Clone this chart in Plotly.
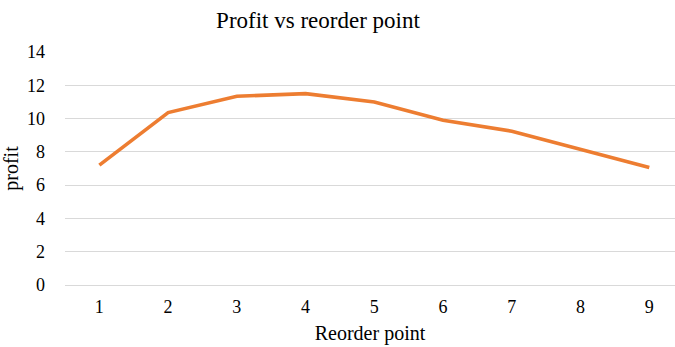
import plotly.graph_objects as go

# Profit for each candidate reorder point
reorder_points = [1, 2, 3, 4, 5, 6, 7, 8, 9]
profit = [7.2, 10.36, 11.34, 11.5, 11.0, 9.9, 9.24, 8.16, 7.06]
y_ticks = [0, 2, 4, 6, 8, 10, 12, 14]

FONT = "Liberation Serif"
TEXT = "#000000"
TICK_FONT = dict(family=FONT, size=18, color=TEXT)

fig = go.Figure(
    go.Scatter(
        x=reorder_points,
        y=profit,
        mode="lines",
        line=dict(color="#ED7D31", width=3.6, shape="linear"),
        hoverinfo="x+y",
    )
)

fig.update_layout(
    template="none",
    width=675,
    height=347,
    margin=dict(l=65, r=0, t=52, b=62),
    paper_bgcolor="white",
    plot_bgcolor="white",
    showlegend=False,
    font=dict(family=FONT, size=18, color=TEXT),
    title=dict(
        text="Profit vs reorder point",
        x=318 / 675,
        xanchor="center",
        xref="container",
        y=1 - 20 / 347,
        yanchor="middle",
        font=dict(family=FONT, size=23, color=TEXT),
    ),
)

fig.update_xaxes(
    range=[0.5, 9.374],
    tickvals=reorder_points,
    tickfont=TICK_FONT,
    showgrid=False,
    zeroline=False,
    showline=False,
    ticks="",
    ticklabelstandoff=9,
    title=dict(text="Reorder point", font=dict(family=FONT, size=20, color=TEXT), standoff=9),
)

fig.update_yaxes(
    range=[0, 14],
    tickvals=y_ticks,
    tickfont=TICK_FONT,
    showgrid=True,
    gridcolor="#d9d9d9",
    gridwidth=1.3,
    zeroline=True,
    zerolinecolor="#d9d9d9",
    zerolinewidth=1.3,
    showline=False,
    ticks="",
    ticklabelstandoff=19,
    title=dict(text="profit", font=dict(family=FONT, size=20, color=TEXT), standoff=6),
)

fig.write_html("out.html")
